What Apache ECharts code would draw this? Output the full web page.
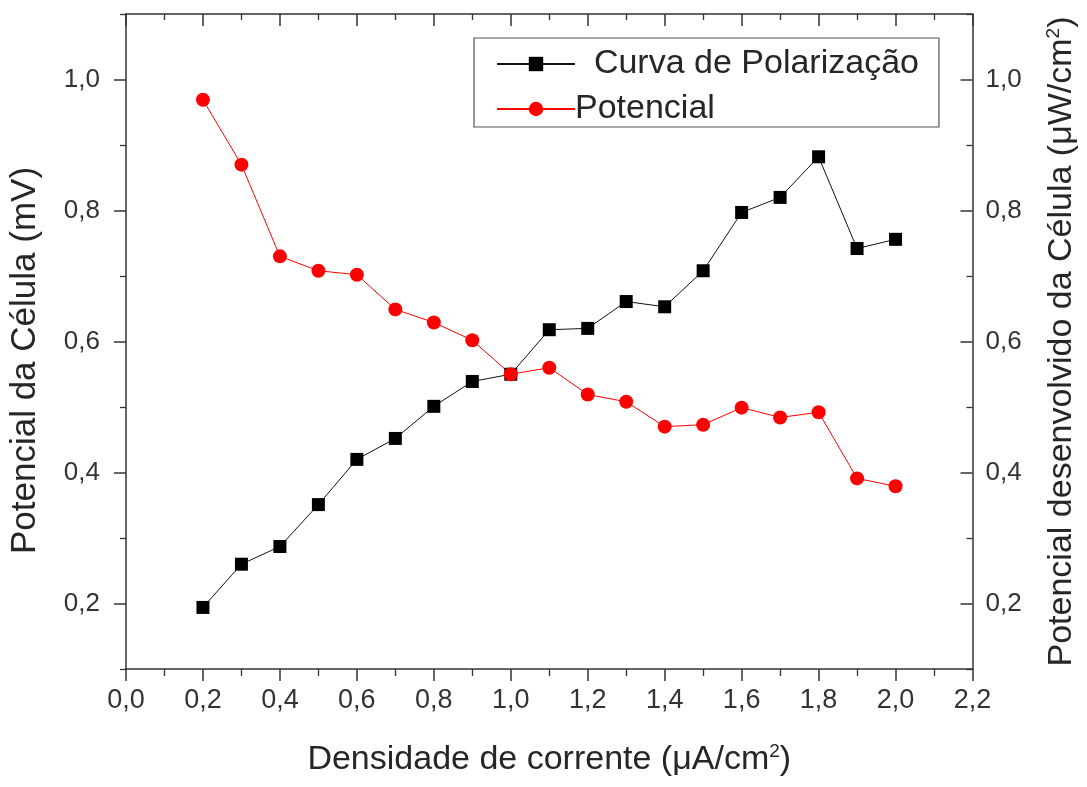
<!DOCTYPE html>
<html>
<head>
<meta charset="utf-8">
<script src="https://cdn.jsdelivr.net/npm/echarts@6/dist/echarts.min.js"></script>
<style>html,body{margin:0;padding:0;background:#fff}#c{width:1087px;height:787px}</style>
</head>
<body>
<div id="c"></div>
<script>
const xValues = [0.2,0.3,0.4,0.5,0.6,0.7,0.8,0.9,1.0,1.1,1.2,1.3,1.4,1.5,1.6,1.7,1.8,1.9,2.0];
const polarizacao = [0.194,0.260,0.287,0.351,0.420,0.452,0.501,0.539,0.550,0.618,0.620,0.661,0.653,0.708,0.797,0.820,0.882,0.742,0.756];
const potencial = [0.969,0.870,0.730,0.708,0.702,0.649,0.629,0.602,0.550,0.560,0.519,0.508,0.470,0.473,0.499,0.484,0.492,0.391,0.379];
const seriesNames = ['Curva de Polarização','Potencial'];
const yMajorTicks = [0.2,0.4,0.6,0.8,1.0];
const yMinorTicks = [0.1,0.3,0.5,0.7,0.9,1.1];

const font = 'Liberation Sans, Arial, sans-serif';
const axisColor = '#333';
const textColor = '#262626';
const fmt = v => v.toFixed(1).replace('.', ',');
const supRich = {sup: {fontSize: 19, verticalAlign: 'top', padding: [0,0,16,0], fontFamily: font, color: textColor}};

function yAxisMain(pos, extra) {
  return Object.assign({
    type: 'value', min: 0.1, max: 1.1, position: pos,
    axisLine: {show: true, onZero: false, lineStyle: {color: axisColor, width: 1.5}},
    axisTick: {show: true, inside: pos === 'right', length: 12, customValues: yMajorTicks, lineStyle: {color: axisColor, width: 1.5}},
    axisLabel: {customValues: yMajorTicks, formatter: fmt, fontFamily: font, fontSize: 26, color: '#333', margin: pos === 'left' ? 26 : 13},
    splitLine: {show: false}
  }, extra);
}
function yAxisMinor(pos) {
  return {
    type: 'value', min: 0.1, max: 1.1, position: pos,
    axisLine: {show: false, onZero: false},
    axisTick: {show: true, inside: pos === 'right', length: 6, customValues: yMinorTicks, lineStyle: {color: axisColor, width: 1.3}},
    axisLabel: {show: false},
    splitLine: {show: false}
  };
}

const chart = echarts.init(document.getElementById('c'));
chart.setOption({
  animation: false,
  backgroundColor: '#fff',
  grid: {left: 126, right: 112, top: 14, bottom: 118},
  legend: {
    orient: 'vertical',
    left: 474, top: 38,
    padding: [9, 20, 1, 22],
    itemGap: 11,
    itemWidth: 78, itemHeight: 18,
    borderColor: '#555', borderWidth: 1.2,
    data: seriesNames,
    formatter: n => n === seriesNames[0] ? '  ' + n : n,
    textStyle: {fontFamily: font, fontSize: 34, color: textColor, padding: [0,0,0,-5]}
  },
  xAxis: [{
    type: 'value', min: 0, max: 2.2, interval: 0.2,
    name: 'Densidade de corrente (μA/cm{sup|2})',
    nameLocation: 'middle', nameGap: 73,
    nameTextStyle: {fontFamily: font, fontSize: 34, color: textColor, rich: supRich},
    axisLine: {show: true, lineStyle: {color: axisColor, width: 1.5}},
    axisTick: {show: true, inside: false, length: 12, lineStyle: {color: axisColor, width: 1.5}},
    minorTick: {show: true, splitNumber: 2, length: 7, lineStyle: {color: axisColor, width: 1.3}},
    axisLabel: {formatter: fmt, fontFamily: font, fontSize: 27, color: '#333', margin: 18},
    splitLine: {show: false}
  }, {
    type: 'value', min: 0, max: 2.2, interval: 0.2, position: 'top',
    axisLine: {show: true, onZero: false, lineStyle: {color: axisColor, width: 1.5}},
    axisTick: {show: true, inside: true, length: 12, lineStyle: {color: axisColor, width: 1.5}},
    minorTick: {show: true, splitNumber: 2, length: 6, lineStyle: {color: axisColor, width: 1.3}},
    axisLabel: {show: false},
    splitLine: {show: false}
  }],
  yAxis: [
    yAxisMain('left', {
      name: 'Potencial da Célula (mV)',
      nameLocation: 'middle', nameGap: 83, nameRotate: 90,
      nameTextStyle: {fontFamily: font, fontSize: 35, color: textColor, padding: [0, 38, 0, 0]}
    }),
    yAxisMain('right', {
      name: 'Potencial desenvolvido da Célula (μW/cm{sup|2})',
      nameLocation: 'middle', nameGap: 72, nameRotate: 90,
      nameTextStyle: {fontFamily: font, fontSize: 34, color: textColor, rich: supRich}
    }),
    yAxisMinor('left'),
    yAxisMinor('right')
  ],
  series: [{
    name: seriesNames[0], type: 'line', xAxisIndex: 0, yAxisIndex: 1,
    data: xValues.map((x, i) => [x, polarizacao[i]]),
    symbol: 'rect', symbolSize: 13,
    itemStyle: {color: '#000'},
    lineStyle: {color: '#111', width: 1}
  }, {
    name: seriesNames[1], type: 'line', xAxisIndex: 0, yAxisIndex: 0,
    data: xValues.map((x, i) => [x, potencial[i]]),
    symbol: 'circle', symbolSize: 14,
    itemStyle: {color: '#ff0000'},
    lineStyle: {color: '#ff0000', width: 1}
  }]
});
</script>
</body>
</html>
